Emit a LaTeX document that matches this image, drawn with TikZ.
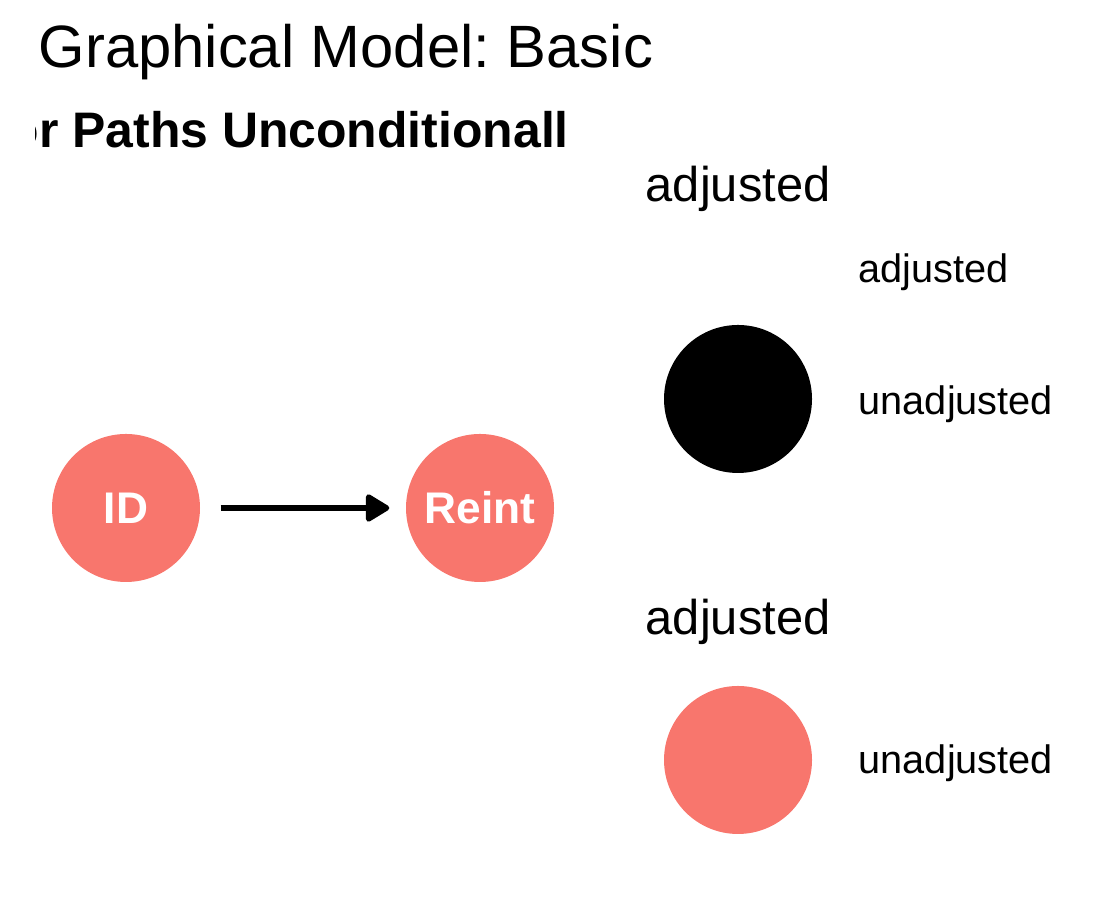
\documentclass[tikz,border=0pt]{standalone}
\usepackage{fontspec}
\setmainfont{Liberation Sans}
\usepackage{tikz}
\usetikzlibrary{positioning, arrows.meta}
\definecolor{Salmon}{RGB}{248, 118, 109}
\definecolor{InkBlack}{RGB}{0, 0, 0}
\frenchspacing

\tikzset{
    dagnode/.style={circle, fill=Salmon, minimum size=1.48cm, inner sep=0pt,
        text=white, font=\bfseries\fontsize{12.6}{14}\selectfont},
    keynode/.style={circle, minimum size=1.48cm, inner sep=0pt},
    legtitle/.style={anchor=base west, inner sep=0pt, font=\fontsize{13.9}{16}\selectfont},
    leglabel/.style={anchor=base west, inner sep=0pt, font=\fontsize{11.3}{13}\selectfont},
}

\begin{document}
\begin{tikzpicture}
    \useasboundingbox (0,0) rectangle (11.03,8.99);

    % Titulo
    \node[anchor=base west, inner sep=0pt, font=\fontsize{17}{20}\selectfont] (title) at (0.38,8.31) {Graphical Model: Basic};
    \begin{scope}
        \clip (0.355,7.0) rectangle (7.0,8.0);
        \node[anchor=base west, inner sep=0pt, font=\bfseries\fontsize{14.2}{17}\selectfont] (subtitle) at (0.08,7.51) {or Paths Unconditionall};
    \end{scope}

    % Grafo
    \node[dagnode] (id) at (1.26,3.91) {ID};
    \node[dagnode] (reint) at (4.80,3.91) {Reint};
    \draw[InkBlack, line width=1.5pt, shorten <=0.2cm, shorten >=0.16cm,
        -{Triangle[length=0.26cm, width=0.30cm, round]}] (id) -- (reint);

    % Leyenda 1
    \node[legtitle] (legA) at (6.45,6.97) {adjusted};
    \node[leglabel] (legAadj) at (8.58,6.16) {adjusted};
    \node[keynode, fill=InkBlack] (keyA) at (7.38,5.00) {};
    \node[leglabel] (legAunadj) at (8.58,4.84) {unadjusted};

    % Leyenda 2
    \node[legtitle] (legB) at (6.45,2.64) {adjusted};
    \node[keynode, fill=Salmon] (keyB) at (7.38,1.39) {};
    \node[leglabel] (legBunadj) at (8.58,1.25) {unadjusted};
\end{tikzpicture}
\end{document}
